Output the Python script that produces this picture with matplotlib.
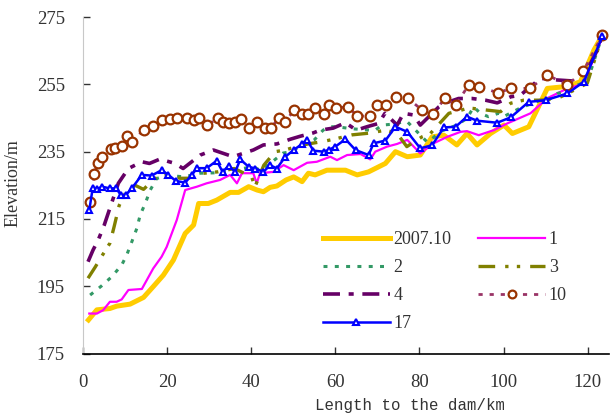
import matplotlib
matplotlib.use("Agg")
import matplotlib.pyplot as plt

# survey years, elevation (m) vs. distance to dam (km)
x_2007 = [1.3, 3.3, 6.4, 8.0, 11.2, 14.4, 16.7, 19.1, 21.5, 24.3, 26.3, 27.5, 29.8, 31.8, 35.0, 37.0,
          39.4, 41.4, 42.9, 44.5, 46.1, 48.3, 50.1, 52.1, 53.6, 55.2, 58.0, 62.4, 65.2, 67.9, 70.3,
          71.9, 74.3, 77.1, 80.2, 83.0, 85.8, 88.9, 91.3, 93.7, 96.9, 100.1, 102.1, 106.0, 110.4,
          115.2, 118.3, 121.5, 123.5]
y_2007 = [185.0, 188.0, 188.4, 189.1, 189.7, 191.7, 194.9, 198.3, 202.8, 210.7, 213.2, 219.6, 219.6,
          220.6, 222.9, 222.9, 224.6, 223.6, 223.1, 224.4, 224.8, 226.6, 227.5, 226.1, 228.6, 228.1,
          229.5, 229.5, 228.1, 229.0, 230.5, 231.5, 235.0, 233.5, 234.0, 239.4, 239.9, 237.0, 240.4,
          237.0, 240.4, 242.9, 240.4, 242.4, 253.8, 254.4, 255.8, 265.2, 269.6]

x_1 = [1.5, 3.3, 4.8, 6.4, 8.0, 9.2, 10.8, 14.0, 16.7, 18.7, 19.9, 22.3, 24.3, 27.1, 29.4, 32.6,
       35.0, 36.6, 37.8, 40.5, 41.3, 42.1, 45.3, 47.7, 50.1, 53.3, 55.6, 58.8, 60.4, 62.8, 66.0,
       68.3, 69.5, 72.3, 74.7, 77.1, 80.2, 83.4, 86.6, 89.8, 91.3, 94.1, 97.7, 100.9, 106.4,
       110.4, 114.4, 119.1, 123.5]
y_1 = [186.9, 186.9, 187.9, 190.4, 190.4, 191.1, 193.9, 194.2, 200.3, 203.8, 206.7, 214.7, 223.6,
       224.6, 225.6, 226.6, 228.1, 225.6, 228.6, 228.6, 225.6, 228.6, 229.0, 231.0, 229.5, 231.7,
       232.0, 233.5, 232.5, 234.0, 234.3, 232.7, 235.0, 236.5, 237.3, 238.5, 234.5, 237.5, 239.4,
       240.9, 241.1, 239.9, 241.4, 243.4, 246.4, 250.9, 253.3, 255.3, 269.1]

x_2 = [1.7, 4.4, 6.8, 9.2, 10.4, 11.6, 12.8, 13.6, 14.8, 16.0, 17.5, 20.0, 24.0, 27.9, 31.0, 35.0,
       38.0, 40.5, 42.1, 45.0, 47.6, 48.6, 52.0, 55.0, 57.1, 58.8, 60.4, 64.0, 68.3, 69.5, 71.1,
       74.0, 76.2, 77.1, 79.0, 81.8, 82.6, 85.0, 88.9, 91.3, 92.9, 94.5, 96.4, 98.8, 100.0, 104.0,
       108.8, 111.2, 112.8, 114.4, 117.5, 119.9, 123.5]
y_2 = [192.4, 195.1, 197.8, 201.3, 204.3, 208.2, 212.2, 216.2, 219.6, 223.6, 227.0, 228.0, 227.5,
       228.6, 228.7, 229.0, 230.0, 230.5, 229.5, 232.0, 234.6, 234.8, 236.5, 238.5, 241.4, 242.4,
       242.4, 241.8, 241.4, 241.4, 242.9, 243.2, 243.9, 243.9, 241.5, 237.9, 238.4, 241.0, 242.9,
       244.9, 248.3, 246.4, 245.4, 246.4, 245.4, 248.0, 250.3, 250.8, 252.3, 252.8, 254.8, 255.8,
       269.6]

x_3 = [1.2, 2.9, 4.6, 6.4, 7.4, 8.6, 10.0, 12.4, 14.4, 17.0, 19.8, 23.1, 25.0, 28.0, 32.0, 36.0,
       40.1, 40.9, 43.0, 45.7, 48.1, 52.0, 57.0, 60.0, 64.0, 68.0, 72.0, 74.7, 77.0, 80.6, 82.6,
       87.0, 90.1, 91.7, 95.7, 99.3, 101.7, 104.8, 108.8, 112.8, 116.0, 119.9, 123.5]
y_3 = [197.4, 200.7, 204.2, 207.8, 212.7, 219.0, 222.5, 225.0, 223.8, 227.0, 228.0, 227.1, 227.1,
       228.5, 229.0, 230.0, 227.5, 224.6, 231.0, 235.0, 235.5, 237.0, 238.0, 238.8, 240.0, 240.5,
       241.4, 240.4, 236.5, 239.4, 240.4, 246.4, 247.4, 248.0, 247.4, 246.9, 249.4, 250.3, 250.3,
       250.8, 252.8, 255.3, 269.6]

x_4 = [1.2, 2.4, 3.6, 5.0, 6.8, 8.4, 10.8, 14.0, 15.8, 18.3, 21.9, 23.8, 27.9, 31.0, 35.7, 40.5,
       42.9, 46.1, 49.3, 51.7, 54.8, 56.4, 59.5, 62.4, 65.0, 67.5, 70.3, 71.8, 74.7, 76.2, 78.6,
       80.2, 84.6, 85.8, 89.3, 92.5, 95.7, 98.5, 101.7, 104.0, 108.8, 112.8, 116.5, 120.7, 122.3,
       123.5]
y_4 = [202.3, 205.8, 208.7, 213.0, 219.7, 225.6, 230.0, 232.0, 231.5, 232.8, 231.5, 230.0, 234.0,
       235.5, 233.5, 235.5, 237.0, 237.3, 238.7, 239.6, 240.6, 241.4, 242.0, 243.6, 241.4, 242.4,
       243.4, 246.4, 242.9, 246.4, 245.9, 242.9, 248.3, 249.3, 250.8, 250.8, 250.3, 249.5, 251.3,
       251.8, 256.8, 256.3, 256.0, 261.3, 265.2, 269.6]

x_10 = [1.7, 2.7, 3.5, 4.5, 6.7, 7.6, 9.2, 10.4, 11.6, 14.4, 16.7, 18.9, 20.7, 22.3, 24.7, 26.3,
        27.5, 29.6, 32.0, 33.4, 34.6, 36.2, 37.6, 39.5, 41.3, 43.2, 44.7, 46.5, 48.1, 50.2, 52.1,
        53.6, 55.2, 57.2, 58.6, 60.2, 63.0, 65.2, 68.2, 69.8, 72.1, 74.4, 77.3, 80.6, 83.2, 86.0,
        88.7, 91.7, 94.1, 98.7, 101.8, 106.3, 110.4, 115.2, 119.0, 123.5]
y_10 = [219.9, 228.3, 231.7, 233.3, 235.7, 236.2, 236.8, 239.7, 238.0, 241.4, 242.7, 244.4, 244.6,
        244.9, 244.9, 244.4, 244.9, 242.9, 244.9, 243.9, 243.6, 243.9, 244.8, 242.1, 243.9, 242.1,
        242.1, 244.9, 243.9, 247.4, 246.1, 246.1, 247.9, 246.1, 249.0, 247.9, 248.4, 245.6, 245.6,
        249.0, 249.0, 251.3, 250.8, 247.4, 246.1, 250.8, 249.0, 254.8, 254.3, 252.5, 253.8, 253.8,
        257.8, 254.8, 259.0, 269.6]

x_17 = [1.5, 2.3, 3.3, 4.5, 6.4, 7.9, 9.0, 10.2, 11.6, 14.0, 16.3, 18.7, 20.3, 22.1, 24.3, 25.9,
        27.1, 29.4, 31.8, 33.2, 34.6, 36.2, 37.4, 39.4, 41.0, 42.9, 44.5, 46.1, 48.1, 50.1, 52.1,
        53.2, 54.8, 57.2, 58.4, 60.0, 62.4, 64.8, 67.9, 69.1, 71.9, 74.3, 77.1, 80.2, 83.0, 85.8,
        88.6, 91.3, 93.7, 98.5, 101.7, 106.0, 110.0, 115.2, 119.1, 123.5]
y_17 = [217.6, 224.1, 223.8, 224.6, 224.1, 224.1, 222.1, 222.1, 224.1, 228.1, 227.9, 229.5, 228.1,
        226.3, 225.8, 228.1, 230.1, 230.1, 232.3, 229.0, 230.8, 229.0, 232.7, 230.5, 230.0, 229.0,
        231.0, 230.0, 233.5, 235.5, 237.3, 238.6, 235.3, 235.0, 235.5, 236.5, 238.7, 235.5, 234.0,
        237.5, 238.3, 242.4, 240.9, 236.0, 236.9, 242.2, 242.4, 245.4, 244.2, 243.6, 245.2, 249.8,
        250.3, 252.3, 255.8, 269.3]

x_ticks = [0, 20, 40, 60, 80, 100, 120]
y_ticks = [175, 195, 215, 235, 255, 275]

serif = "Liberation Serif"

fig = plt.figure(figsize=(6.12, 4.16), dpi=100)
ax = fig.add_axes([0.1356, 0.150, 0.859, 0.809])

h07, = ax.plot(x_2007, y_2007, color="#FFCC00", lw=3.6, label="2007.10")
h1, = ax.plot(x_1, y_1, color="#FF00FF", lw=1.6, label="1")
h2, = ax.plot(x_2, y_2, color="#339966", lw=2.2, ls=(0, (1.3, 2.4)), label="2")
h3, = ax.plot(x_3, y_3, color="#808000", lw=2.4, ls=(0, (5, 3, 1, 2.5, 1, 3)), label="3")
h4, = ax.plot(x_4, y_4, color="#660066", lw=2.6, ls=(0, (4.7, 2.4, 1.4, 2.4)), label="4")
h10, = ax.plot(x_10, y_10, color="#993366", lw=2.0, ls=(0, (1.5, 2.5)),
               marker="o", ms=7, mfc="white", mec="#993300", mew=1.6, label="10")
h17, = ax.plot(x_17, y_17, color="#0000FF", lw=1.8, marker="^", ms=5,
               mfc="white", mec="#0000FF", mew=1.5, label="17")

ax.set_xlim(0, 125)
ax.set_ylim(175, 275)
ax.set_xticks(x_ticks)
ax.set_yticks(y_ticks)
ax.tick_params(direction="in", length=5, width=1, labelsize=13.5, colors="#333333")
ax.tick_params(axis="x", pad=15)
ax.tick_params(axis="y", pad=13)
for lab in ax.get_xticklabels() + ax.get_yticklabels():
    lab.set_fontfamily(serif)

for s in ("top", "right"):
    ax.spines[s].set_visible(False)
ax.spines["left"].set_color("#c8c8c8")
ax.spines["bottom"].set_color("black")
ax.spines["bottom"].set_linewidth(1.2)

ax.set_xlabel("Length to the dam/km", fontfamily="Liberation Mono", fontsize=11.3, color="#333333")
ax.xaxis.set_label_coords(0.622, -0.131)
ax.set_ylabel("Elevation/m", fontfamily=serif, fontsize=13, color="#333333")
ax.yaxis.set_label_coords(-0.117, 0.507)

leg = ax.legend(handles=[h07, h2, h4, h17, h1, h3, h10], ncol=2, frameon=False,
                loc="upper left", bbox_to_anchor=(0.456, 0.363), borderaxespad=0, borderpad=0,
                handlelength=3.7, handletextpad=0.2, columnspacing=1.5, labelspacing=0.6,
                markerscale=0.8, prop={"family": serif, "size": 13})
for t in leg.get_texts():
    t.set_color("#333333")

fig.savefig("out.png", dpi=100)
